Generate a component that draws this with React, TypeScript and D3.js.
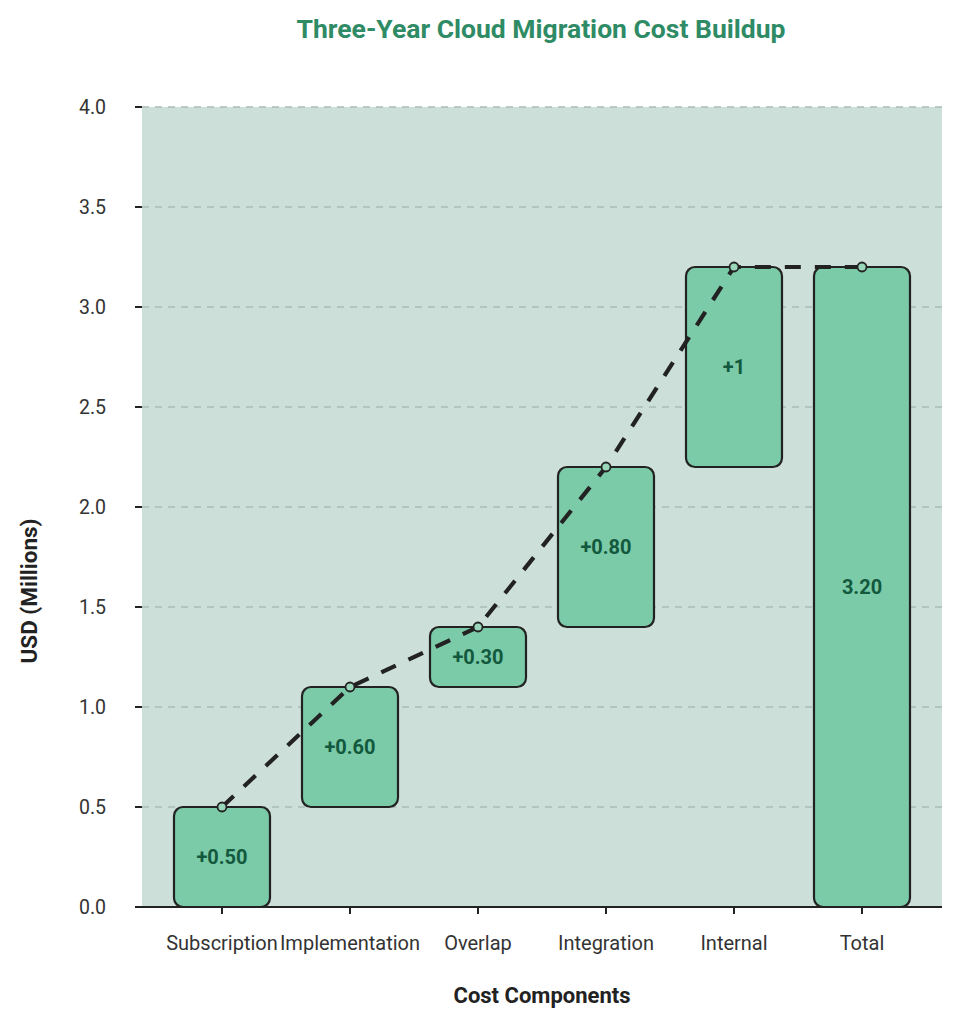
import * as d3 from "d3";
import React from "react";

const categories = ["Subscription", "Implementation", "Overlap", "Integration", "Internal", "Total"];
const deltas = [0.5, 0.6, 0.3, 0.8, 1.0, 3.2];
const isTotal = [false, false, false, false, false, true];
const valueLabels = ["+0.50", "+0.60", "+0.30", "+0.80", "+1", "3.20"];
const yTicks = [0, 0.5, 1, 1.5, 2, 2.5, 3, 3.5, 4];

const W = 960;
const H = 1024;
const plot = { left: 142, right: 942, top: 107, bottom: 907 };

const FONT = "Roboto, 'Noto Sans', sans-serif";

export default function App() {
  React.useEffect(() => {
    document.body.style.margin = "0";
  }, []);

  const x = d3
    .scaleBand<string>()
    .domain(categories)
    .range([plot.left + 16, plot.right - 16])
    .paddingInner(0.25)
    .paddingOuter(0.125);

  const y = d3.scaleLinear().domain([0, 4]).range([plot.bottom, plot.top]);

  // running totals for the waterfall
  let run = 0;
  const bars = categories.map((c, i) => {
    const start = isTotal[i] ? 0 : run;
    const end = isTotal[i] ? deltas[i] : run + deltas[i];
    if (!isTotal[i]) run = end;
    return { c, start, end, label: valueLabels[i] };
  });

  const cx = (c: string) => (x(c) ?? 0) + x.bandwidth() / 2;
  const line = d3
    .line<{ c: string; end: number }>()
    .x((d) => cx(d.c))
    .y((d) => y(d.end));

  return (
    <svg width={W} height={H} style={{ display: "block", background: "#fff" }} fontFamily={FONT}>
      <rect x={plot.left} y={plot.top} width={plot.right - plot.left} height={plot.bottom - plot.top} fill="#cddfd9" />

      {yTicks.map((t) => (
        <g key={t}>
          <line
            x1={plot.left}
            x2={plot.right}
            y1={y(t)}
            y2={y(t)}
            stroke="#a9bdb5"
            strokeWidth={1.5}
            strokeDasharray="7,6"
          />
          <line x1={plot.left - 7} x2={plot.left} y1={y(t)} y2={y(t)} stroke="#222" strokeWidth={2} />
          <text x={plot.left - 36} y={y(t)} dy="0.35em" textAnchor="end" fontSize={19.5} fill="#333">
            {t.toFixed(1)}
          </text>
        </g>
      ))}

      {bars.map((b) => (
        <g key={b.c}>
          <rect
            x={x(b.c)}
            y={y(b.end)}
            width={x.bandwidth()}
            height={y(b.start) - y(b.end)}
            rx={9}
            fill="#7bcaa8"
            stroke="#222"
            strokeWidth={2.2}
          />
        </g>
      ))}

      <path d={line(bars) ?? ""} fill="none" stroke="#222" strokeWidth={4.2} strokeDasharray="16,14" />
      {bars.map((b) => (
        <circle key={b.c} cx={cx(b.c)} cy={y(b.end)} r={4.5} fill="#9ad6b9" stroke="#222" strokeWidth={1.8} />
      ))}

      {bars.map((b) => (
        <text
          key={b.c}
          x={cx(b.c)}
          y={y((b.start + b.end) / 2)}
          dy="0.35em"
          textAnchor="middle"
          fontSize={20}
          fontWeight="bold"
          fill="#12593d"
        >
          {b.label}
        </text>
      ))}

      <line x1={plot.left - 7} x2={plot.right} y1={plot.bottom} y2={plot.bottom} stroke="#222" strokeWidth={2.2} />
      {categories.map((c) => (
        <g key={c}>
          <line x1={cx(c)} x2={cx(c)} y1={plot.bottom} y2={plot.bottom + 7} stroke="#222" strokeWidth={2} />
          <text x={cx(c)} y={plot.bottom + 36} dy="0.35em" textAnchor="middle" fontSize={20} fill="#333">
            {c}
          </text>
        </g>
      ))}

      <text x={541} y={29} dy="0.35em" textAnchor="middle" fontSize={26.5} fontWeight="bold" fill="#2e8b65">
        Three-Year Cloud Migration Cost Buildup
      </text>
      <text
        transform={`translate(29,591) rotate(-90)`}
        dy="0.35em"
        textAnchor="middle"
        fontSize={22.5}
        fontWeight="bold"
        fill="#222"
      >
        USD (Millions)
      </text>
      <text x={542} y={995} dy="0.35em" textAnchor="middle" fontSize={22} fontWeight="bold" fill="#222">
        Cost Components
      </text>
    </svg>
  );
}
